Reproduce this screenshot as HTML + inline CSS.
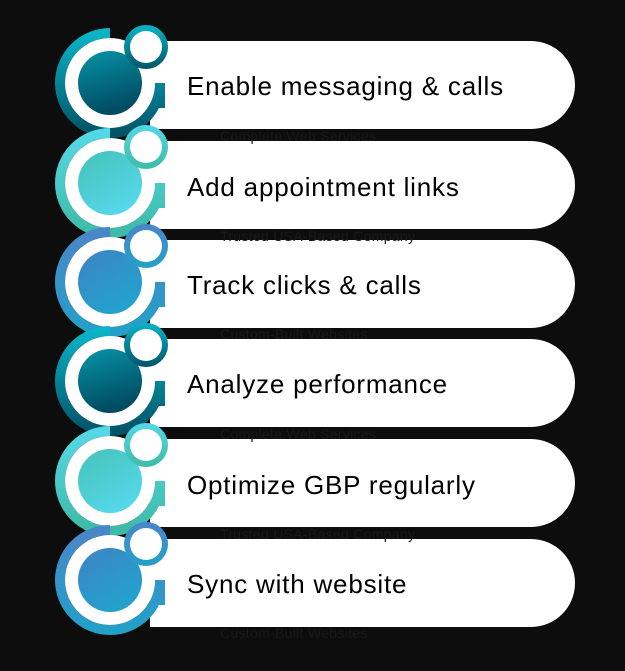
<!DOCTYPE html><html><head><style>
body{margin:0;background:#0d0d0d;width:625px;height:671px;overflow:hidden;font-family:"Liberation Sans",sans-serif;position:relative}
.pill{position:absolute;left:150px;width:425px;height:88px;background:#fff;border-radius:0 44px 44px 0;}
.t{position:absolute;left:187px;font-size:26px;color:#000;letter-spacing:0.8px}
.f{position:absolute;left:220px;font-size:14px;color:#181818;letter-spacing:0.3px}
svg{position:absolute;left:0;top:0}
</style></head><body>
<div class="pill" style="top:41px"></div>
<div class="pill" style="top:141px"></div>
<div class="pill" style="top:240px"></div>
<div class="pill" style="top:339px"></div>
<div class="pill" style="top:439px"></div>
<div class="pill" style="top:539px"></div>
<div class="f" style="top:128px">Complete Web Services</div>
<div class="f" style="top:228px">Trusted USA-Based Company</div>
<div class="f" style="top:326px">Custom-Built Websites</div>
<div class="f" style="top:426px">Complete Web Services</div>
<div class="f" style="top:526px">Trusted USA-Based Company</div>
<div class="f" style="top:625px">Custom-Built Websites</div>
<div class="t" style="top:71px">Enable messaging &amp; calls</div>
<div class="t" style="top:172px">Add appointment links</div>
<div class="t" style="top:270px">Track clicks &amp; calls</div>
<div class="t" style="top:369px">Analyze performance</div>
<div class="t" style="top:470px">Optimize GBP regularly</div>
<div class="t" style="top:569px">Sync with website</div>
<svg width="625" height="671">
<defs>
<linearGradient id="G0" x1="0" y1="0" x2="0" y2="1"><stop offset="0" stop-color="#0ab4c8"/><stop offset="1" stop-color="#005468"/></linearGradient>
<linearGradient id="H0" x1="0" y1="0" x2="0.3" y2="1"><stop offset="0" stop-color="#0893a8"/><stop offset="1" stop-color="#004c62"/></linearGradient>
<linearGradient id="G1" x1="0" y1="0" x2="0" y2="1"><stop offset="0" stop-color="#55d8e6"/><stop offset="1" stop-color="#3dbba8"/></linearGradient>
<linearGradient id="H1" x1="0" y1="0" x2="0.6" y2="1"><stop offset="0" stop-color="#45c2b8"/><stop offset="1" stop-color="#55d8ea"/></linearGradient>
<linearGradient id="G2" x1="0" y1="0" x2="0" y2="1"><stop offset="0" stop-color="#4a86c8"/><stop offset="1" stop-color="#22a0c8"/></linearGradient>
<linearGradient id="H2" x1="0" y1="0" x2="0.6" y2="1"><stop offset="0" stop-color="#3f84c4"/><stop offset="1" stop-color="#22a2cc"/></linearGradient>
</defs>
<g transform="translate(0,0)"><path d="M110,33 A50,50 0 1 0 160,83 L160,108" fill="none" stroke="url(#G0)" stroke-width="10"/><circle cx="110" cy="83" r="45" fill="#fff"/><path d="M110,83 L146,47" stroke="#fff" stroke-width="24"/><circle cx="110" cy="83" r="32" fill="url(#H0)"/><circle cx="146" cy="47" r="22" fill="url(#G0)"/><circle cx="146" cy="47" r="16" fill="#fff"/></g>
<g transform="translate(0,100)"><path d="M110,33 A50,50 0 1 0 160,83 L160,108" fill="none" stroke="url(#G1)" stroke-width="10"/><circle cx="110" cy="83" r="45" fill="#fff"/><path d="M110,83 L146,47" stroke="#fff" stroke-width="24"/><circle cx="110" cy="83" r="32" fill="url(#H1)"/><circle cx="146" cy="47" r="22" fill="url(#G1)"/><circle cx="146" cy="47" r="16" fill="#fff"/></g>
<g transform="translate(0,199)"><path d="M110,33 A50,50 0 1 0 160,83 L160,108" fill="none" stroke="url(#G2)" stroke-width="10"/><circle cx="110" cy="83" r="45" fill="#fff"/><path d="M110,83 L146,47" stroke="#fff" stroke-width="24"/><circle cx="110" cy="83" r="32" fill="url(#H2)"/><circle cx="146" cy="47" r="22" fill="url(#G2)"/><circle cx="146" cy="47" r="16" fill="#fff"/></g>
<g transform="translate(0,298)"><path d="M110,33 A50,50 0 1 0 160,83 L160,108" fill="none" stroke="url(#G0)" stroke-width="10"/><circle cx="110" cy="83" r="45" fill="#fff"/><path d="M110,83 L146,47" stroke="#fff" stroke-width="24"/><circle cx="110" cy="83" r="32" fill="url(#H0)"/><circle cx="146" cy="47" r="22" fill="url(#G0)"/><circle cx="146" cy="47" r="16" fill="#fff"/></g>
<g transform="translate(0,398)"><path d="M110,33 A50,50 0 1 0 160,83 L160,108" fill="none" stroke="url(#G1)" stroke-width="10"/><circle cx="110" cy="83" r="45" fill="#fff"/><path d="M110,83 L146,47" stroke="#fff" stroke-width="24"/><circle cx="110" cy="83" r="32" fill="url(#H1)"/><circle cx="146" cy="47" r="22" fill="url(#G1)"/><circle cx="146" cy="47" r="16" fill="#fff"/></g>
<g transform="translate(0,497)"><path d="M110,33 A50,50 0 1 0 160,83 L160,108" fill="none" stroke="url(#G2)" stroke-width="10"/><circle cx="110" cy="83" r="45" fill="#fff"/><path d="M110,83 L146,47" stroke="#fff" stroke-width="24"/><circle cx="110" cy="83" r="32" fill="url(#H2)"/><circle cx="146" cy="47" r="22" fill="url(#G2)"/><circle cx="146" cy="47" r="16" fill="#fff"/></g>
</svg>
</body></html>
